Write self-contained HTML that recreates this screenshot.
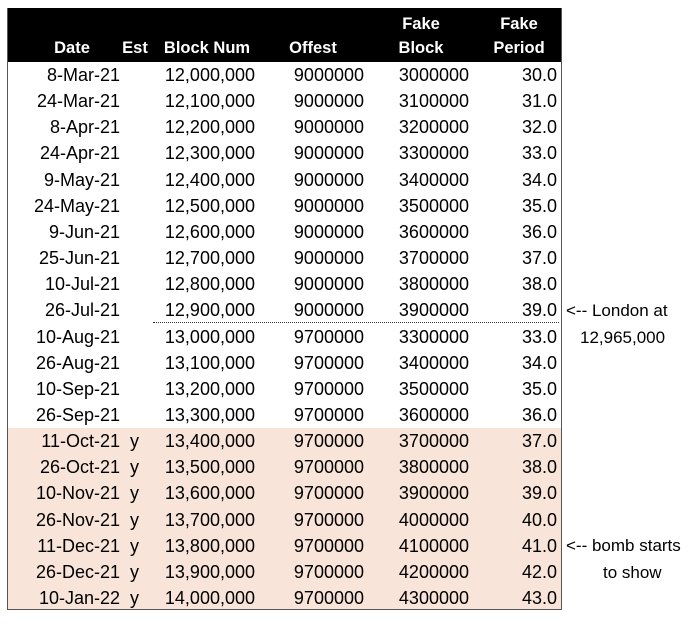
<!DOCTYPE html>
<html><head><style>
body{margin:0;width:700px;height:626px;background:#fff;font-family:"Liberation Sans",sans-serif;font-size:18px;color:#000;position:relative;overflow:hidden}
.t{position:absolute;left:7px;top:8px;width:555px;height:602px;border:1px solid #555;box-sizing:border-box;border-top:none}
.hd{position:absolute;left:7px;top:8px;width:555px;height:54px;background:#000;color:#fff;font-weight:bold;font-size:16.5px}
.hd div{position:absolute;text-align:center;white-space:nowrap;line-height:24px}
.pe{position:absolute;left:7px;top:428px;width:555px;height:182px;background:#f8e4d8}
.r{position:absolute;left:0;width:700px;height:26px;line-height:26px}
.r span{position:absolute;white-space:nowrap}
.a{text-align:right}
.note{position:absolute;white-space:nowrap;line-height:26px;font-size:17px}
.dot{position:absolute;left:153px;top:322px;width:406px;border-top:1px dotted #333}
</style></head><body>
<div class="pe"></div>
<div class="hd">
<div style="left:30px;width:70px;top:28px">Date</div>
<div style="left:110px;width:36px;top:28px">Est</div>
<div style="left:150px;width:100px;top:28px">Block Num</div>
<div style="left:266px;width:80px;top:28px">Offest</div>
<div style="left:374px;width:80px;top:4px">Fake<br>Block</div>
<div style="left:472px;width:80px;top:4px">Fake<br>Period</div>
</div>
<div class="t"></div>
<div class="dot"></div>
<div id="rows"></div>
<div class="note" style="left:566px;top:298px">&lt;-- London at</div>
<div class="note" style="left:580px;top:325px">12,965,000</div>
<div class="note" style="left:566px;top:533px">&lt;-- bomb starts</div>
<div class="note" style="left:603px;top:560px">to show</div>
<script>
var d=[["8-Mar-21","","12,000,000","9000000","3000000","30.0"],["24-Mar-21","","12,100,000","9000000","3100000","31.0"],["8-Apr-21","","12,200,000","9000000","3200000","32.0"],["24-Apr-21","","12,300,000","9000000","3300000","33.0"],["9-May-21","","12,400,000","9000000","3400000","34.0"],["24-May-21","","12,500,000","9000000","3500000","35.0"],["9-Jun-21","","12,600,000","9000000","3600000","36.0"],["25-Jun-21","","12,700,000","9000000","3700000","37.0"],["10-Jul-21","","12,800,000","9000000","3800000","38.0"],["26-Jul-21","","12,900,000","9000000","3900000","39.0"],["10-Aug-21","","13,000,000","9700000","3300000","33.0"],["26-Aug-21","","13,100,000","9700000","3400000","34.0"],["10-Sep-21","","13,200,000","9700000","3500000","35.0"],["26-Sep-21","","13,300,000","9700000","3600000","36.0"],["11-Oct-21","y","13,400,000","9700000","3700000","37.0"],["26-Oct-21","y","13,500,000","9700000","3800000","38.0"],["10-Nov-21","y","13,600,000","9700000","3900000","39.0"],["26-Nov-21","y","13,700,000","9700000","4000000","40.0"],["11-Dec-21","y","13,800,000","9700000","4100000","41.0"],["26-Dec-21","y","13,900,000","9700000","4200000","42.0"],["10-Jan-22","y","14,000,000","9700000","4300000","43.0"]];
var rights=[120,0,255,364,469,557],h="";
d.forEach(function(r,i){var y=62+i*26.15;h+='<div class="r" style="top:'+y+'px">';
r.forEach(function(c,j){if(j==1){h+='<span style="left:130px">'+c+'</span>';}else{h+='<span class="a" style="right:'+(700-rights[j])+'px">'+c+'</span>';}});h+='</div>';});
document.getElementById("rows").innerHTML=h;
</script>
</body></html>
